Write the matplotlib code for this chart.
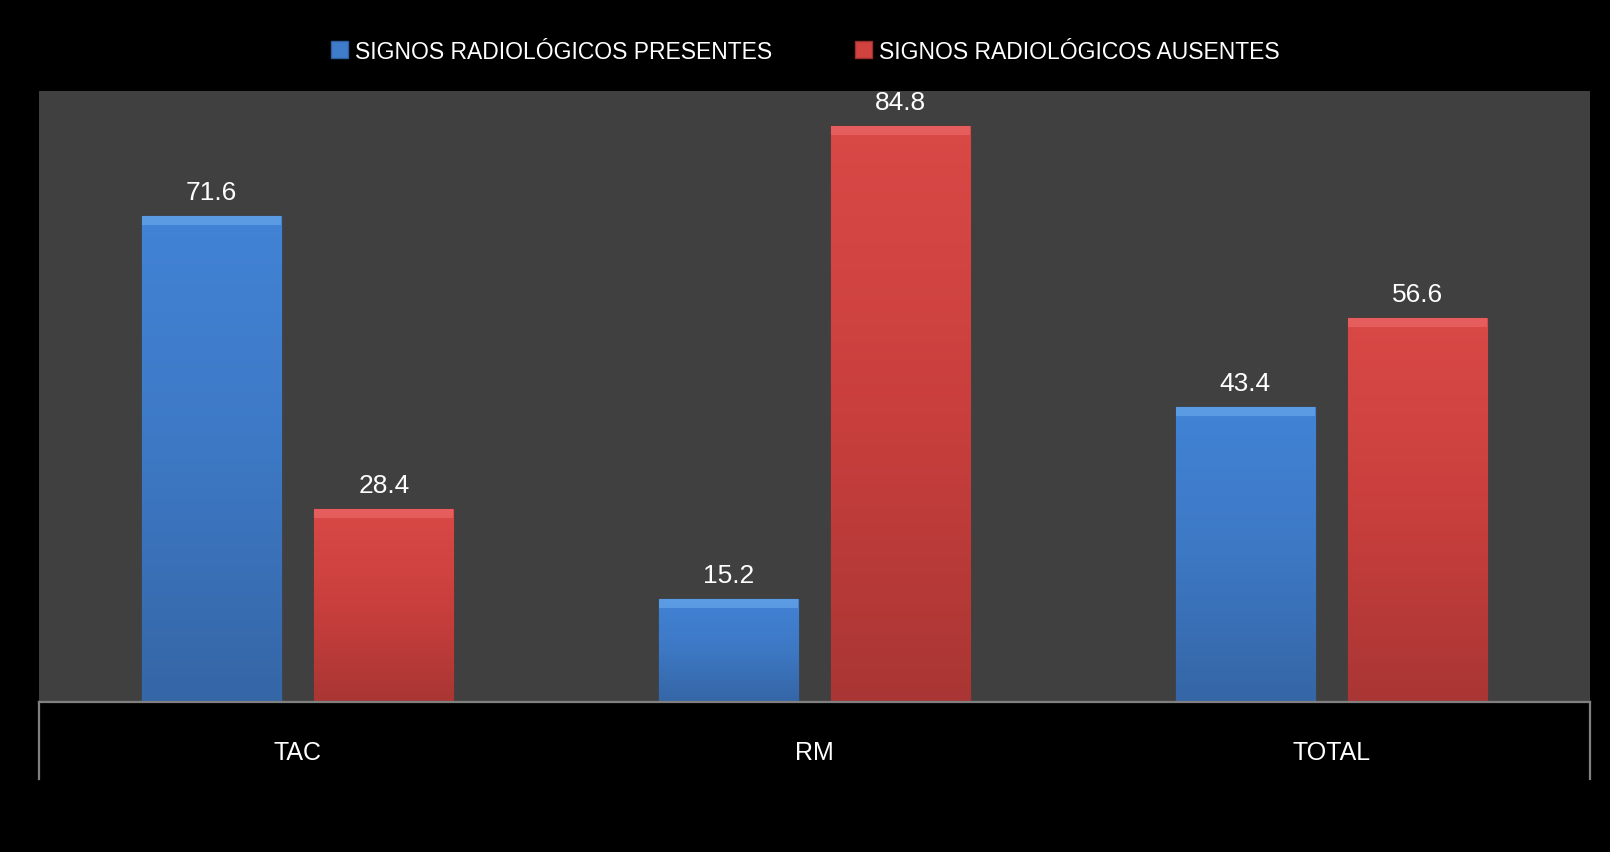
import numpy as np
import matplotlib
matplotlib.use("Agg")
import matplotlib.pyplot as plt
from matplotlib.colors import LinearSegmentedColormap

plt.rcParams['font.family'] = ['Liberation Sans', 'DejaVu Sans']

categories = ["TAC", "RM", "TOTAL"]
presentes = [71.6, 15.2, 43.4]
ausentes = [28.4, 84.8, 56.6]
series_names = ["SIGNOS RADIOLÓGICOS PRESENTES", "SIGNOS RADIOLÓGICOS AUSENTES"]

fig = plt.figure(figsize=(16.1, 8.53), dpi=100, facecolor='black')
ax = fig.add_axes([0.0242, 0.1758, 0.9634, 0.7163])
ax.set_facecolor('#404040')

x = np.arange(len(categories))
w = 0.269
off = 0.167

b1 = ax.bar(x - off, presentes, w, color='#3f7dcc', edgecolor='#2f5f9f', linewidth=1.0,
            label=series_names[0], zorder=2)
b2 = ax.bar(x + off, ausentes, w, color='#d24340', edgecolor='#9a302e', linewidth=1.0,
            label=series_names[1], zorder=2)

# vertical gradient inside each bar, clipped to the bar patch
blue_cm = LinearSegmentedColormap.from_list('b', ['#3566a6', '#3d78c4', '#4283d6'])
red_cm = LinearSegmentedColormap.from_list('r', ['#a93634', '#c93f3d', '#d94946'])
grad = np.linspace(0, 1, 256).reshape(-1, 1)
for bars, cm, hi in ((b1, blue_cm, '#6fb0f0'), (b2, red_cm, '#f07070')):
    for p in bars:
        x0, y0 = p.get_x(), p.get_y()
        bw, bh = p.get_width(), p.get_height()
        im = ax.imshow(grad, cmap=cm, aspect='auto', origin='lower',
                       extent=[x0, x0 + bw, y0, y0 + bh], zorder=2.1)
        im.set_clip_path(p)
        # lighter top bevel strip
        ax.fill_between([x0, x0 + bw], y0 + bh - 1.3, y0 + bh, color=hi, alpha=0.55,
                        zorder=2.2, linewidth=0)
        ax.text(x0 + bw / 2, y0 + bh + 1.8, f"{bh:.1f}", ha='center', va='bottom',
                color='white', fontsize=19, zorder=3)

ax.set_xlim(-0.5, len(categories) - 0.5)
ax.set_ylim(0, 90)
ax.set_yticks([])
ax.set_xticks(x)
ax.set_xticklabels(categories, color='white', fontsize=18)
ax.tick_params(axis='x', length=0, pad=27)
for s in ('top', 'left', 'right'):
    ax.spines[s].set_visible(False)
ax.spines['bottom'].set_color('#808080')
ax.spines['bottom'].set_linewidth(1.6)

# category separator lines at the outer edges, below the axis
for xe in (0, 1):
    ax.plot([xe, xe], [0, -0.126], transform=ax.transAxes, color='#808080',
            linewidth=1.6, clip_on=False)

leg = fig.legend(handles=[b1, b2], labels=series_names, loc='center',
                 bbox_to_anchor=(0.5, 0.939), ncol=2, frameon=False,
                 fontsize=16.5, labelcolor='white', handlelength=0.75, handleheight=0.75,
                 handletextpad=0.3, columnspacing=3.6)

fig.savefig('out.png', dpi=100, facecolor='black')
